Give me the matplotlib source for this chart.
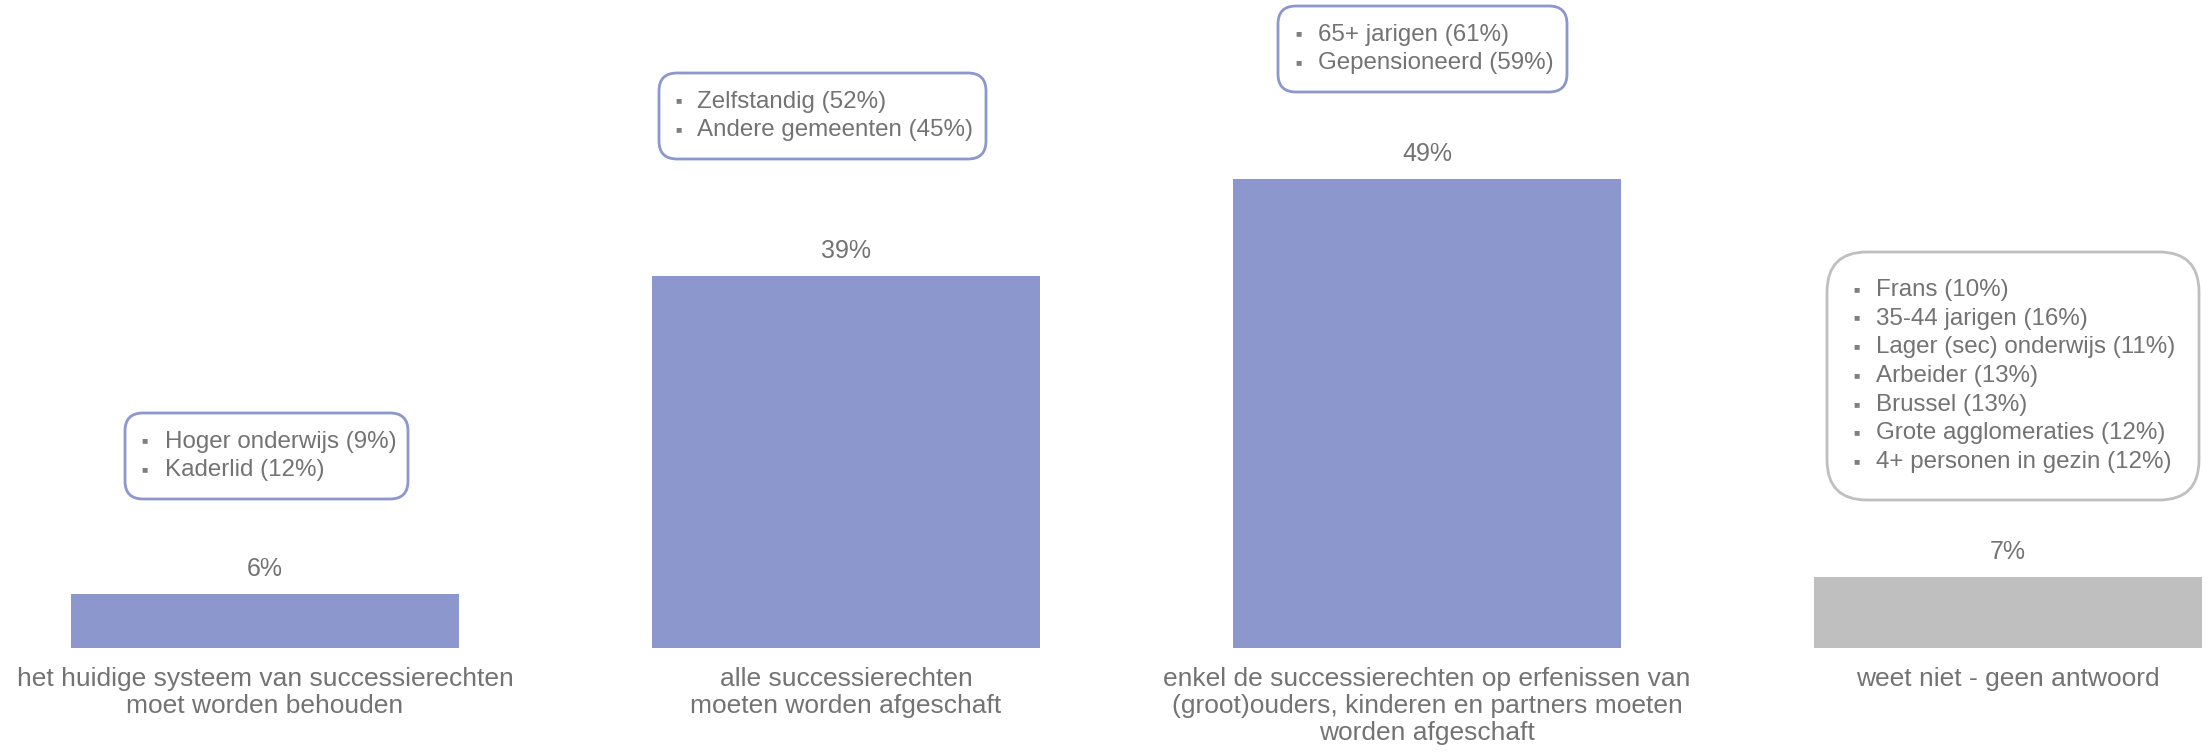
import matplotlib
matplotlib.use("Agg")
import matplotlib.pyplot as plt
from matplotlib.patches import FancyBboxPatch
from matplotlib.transforms import Affine2D

plt.rcParams["font.family"] = ["Liberation Sans", "DejaVu Sans"]

# data
categories = [
    "het huidige systeem van successierechten\nmoet worden behouden",
    "alle successierechten\nmoeten worden afgeschaft",
    "enkel de successierechten op erfenissen van\n(groot)ouders, kinderen en partners moeten\nworden afgeschaft",
    "weet niet - geen antwoord",
]
values = [5.6, 38.9, 49.0, 7.4]
value_labels = ["6%", "39%", "49%", "7%"]
bar_colors = ["#8b97cd", "#8b97cd", "#8b97cd", "#bfbfbf"]

callout_1 = ["Hoger onderwijs (9%)", "Kaderlid (12%)"]
callout_2 = ["Zelfstandig (52%)", "Andere gemeenten (45%)"]
callout_3 = ["65+ jarigen (61%)", "Gepensioneerd (59%)"]
callout_4 = ["Frans (10%)", "35-44 jarigen (16%)", "Lager (sec) onderwijs (11%)",
             "Arbeider (13%)", "Brussel (13%)", "Grote agglomeraties (12%)",
             "4+ personen in gezin (12%)"]

TEXT = "#737373"
W, H, DPI = 2208, 754, 100

fig = plt.figure(figsize=(W / DPI, H / DPI), dpi=DPI)
ax = fig.add_axes([0, 106 / H, 1, 648 / H])
x = list(range(len(values)))
ax.bar(x, values, width=0.668, color=bar_colors)
ax.set_xlim(-265 / 581, (W - 265) / 581)
ax.set_ylim(0, 648 / 9.57)
ax.axis("off")

for xi, v, lab, cat in zip(x, values, value_labels, categories):
    ax.annotate(lab, (xi, v), xytext=(0, 18), textcoords="offset points",
                ha="center", va="center", fontsize=18, color=TEXT)
    ax.annotate(cat, (xi, 0), xytext=(0, -14), textcoords="offset points",
                ha="center", va="top", fontsize=19, color=TEXT, linespacing=1.15)

# callout boxes, positioned in pixels from top-left
pix = Affine2D().scale(1 / DPI) + fig.dpi_scale_trans


def callout(lines, left, top, right, bottom, edge, radius, bullet_dx, text_dx):
    box = FancyBboxPatch((left, H - bottom), right - left, bottom - top,
                         boxstyle=f"round,pad=0,rounding_size={radius}",
                         transform=pix, facecolor="white", edgecolor=edge, linewidth=2)
    fig.add_artist(box)
    yc = (top + bottom) / 2
    n = len(lines)
    for i, line in enumerate(lines):
        y = H - (yc + (i - (n - 1) / 2) * 28.7)
        fig.text(left + bullet_dx, y + 1, "\u25a0", transform=pix, ha="center",
                 va="center", fontsize=7.5, color="#7f7f7f")
        fig.text(left + text_dx, y, line, transform=pix, ha="left",
                 va="center", fontsize=17.4, color=TEXT)


callout(callout_1, 125, 413, 408, 499, "#8b97cd", 18, 20, 40)
callout(callout_2, 659, 73, 986, 159, "#8b97cd", 18, 19, 38)
callout(callout_3, 1278, 6, 1567, 92, "#8b97cd", 18, 21, 40)
callout(callout_4, 1827, 252, 2199, 500, "#bfbfbf", 40, 30, 49)

fig.savefig("out.png", dpi=DPI)
plt.close(fig)
